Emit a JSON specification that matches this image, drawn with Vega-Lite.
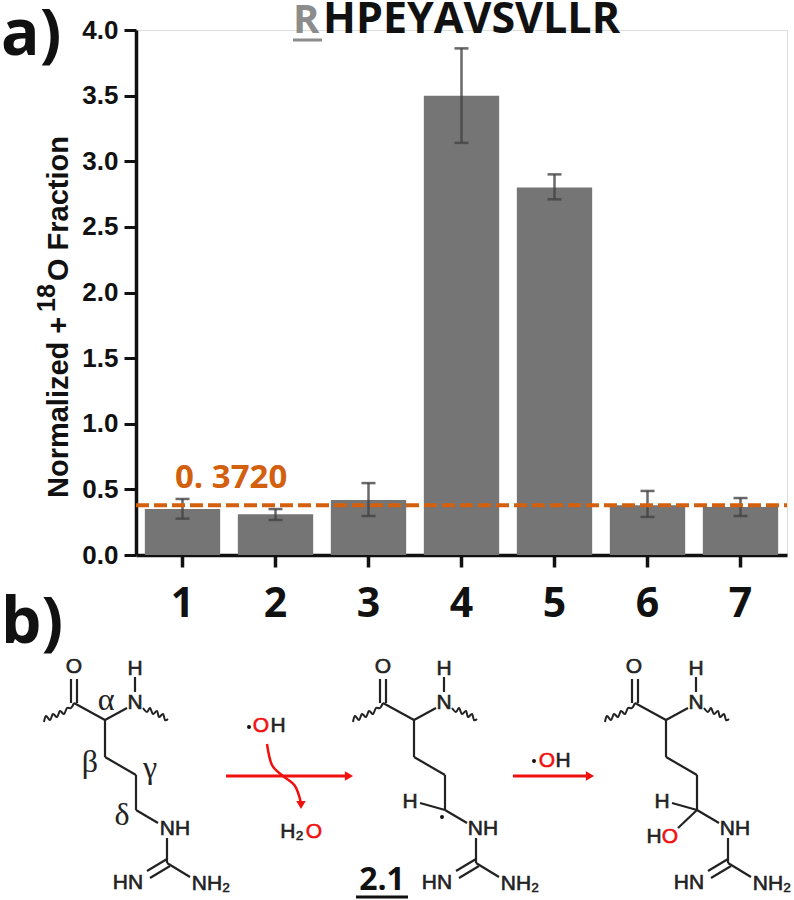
{"$schema":"https://vega.github.io/schema/vega-lite/v6.json","width":651,"height":525,"autosize":"none","padding":{"left":136,"top":30,"right":7,"bottom":345},"background":"white",
"datasets":{
"bars":[{"sample":"1","fraction":0.35,"low":0.277,"high":0.427},{"sample":"2","fraction":0.31,"low":0.267,"high":0.35},{"sample":"3","fraction":0.42,"low":0.297,"high":0.548},{"sample":"4","fraction":3.5,"low":3.14,"high":3.86},{"sample":"5","fraction":2.8,"low":2.71,"high":2.9},{"sample":"6","fraction":0.38,"low":0.29,"high":0.488},{"sample":"7","fraction":0.365,"low":0.297,"high":0.434}],
"bonds":[
{"x":71,"y":703,"x2":71,"y2":679},{"x":77,"y":703,"x2":77,"y2":679},{"x":74,"y":703,"x2":105,"y2":720},{"x":105,"y":720,"x2":127,"y2":708},{"x":135,"y":692,"x2":135,"y2":677},{"x":105,"y":720,"x2":105,"y2":757},{"x":105,"y":757,"x2":136,"y2":775},{"x":136,"y":775,"x2":136,"y2":810},{"x":136,"y":810,"x2":158,"y2":823},{"x":167,"y":838,"x2":167,"y2":863},{"x":167,"y":863,"x2":190,"y2":877},{"x":167,"y":859,"x2":147,"y2":871},{"x":170,"y":866,"x2":150,"y2":878},
{"x":380,"y":703,"x2":380,"y2":679},{"x":386,"y":703,"x2":386,"y2":679},{"x":383,"y":703,"x2":414,"y2":720},{"x":414,"y":720,"x2":436,"y2":708},{"x":444,"y":692,"x2":444,"y2":677},{"x":414,"y":720,"x2":414,"y2":757},{"x":414,"y":757,"x2":445,"y2":775},{"x":445,"y":775,"x2":445,"y2":810},{"x":445,"y":810,"x2":467,"y2":823},{"x":476,"y":838,"x2":476,"y2":863},{"x":476,"y":863,"x2":499,"y2":877},{"x":476,"y":859,"x2":456,"y2":871},{"x":479,"y":866,"x2":459,"y2":878},{"x":420,"y":803,"x2":445,"y2":810},
{"x":632,"y":703,"x2":632,"y2":679},{"x":638,"y":703,"x2":638,"y2":679},{"x":635,"y":703,"x2":666,"y2":720},{"x":666,"y":720,"x2":688,"y2":708},{"x":696,"y":692,"x2":696,"y2":677},{"x":666,"y":720,"x2":666,"y2":757},{"x":666,"y":757,"x2":697,"y2":775},{"x":697,"y":775,"x2":697,"y2":810},{"x":697,"y":810,"x2":719,"y2":823},{"x":728,"y":838,"x2":728,"y2":863},{"x":728,"y":863,"x2":751,"y2":877},{"x":728,"y":859,"x2":708,"y2":871},{"x":731,"y":866,"x2":711,"y2":878},{"x":672,"y":803,"x2":697,"y2":810},{"x":697,"y":810,"x2":678,"y2":828}
],
"waves":[
{"w":"a","i":1,"x":44,"y":722},{"w":"a","i":2,"x":46,"y":716},{"w":"a","i":3,"x":50,"y":720},{"w":"a","i":4,"x":53,"y":714},{"w":"a","i":5,"x":57,"y":717},{"w":"a","i":6,"x":60,"y":711},{"w":"a","i":7,"x":64,"y":714},{"w":"a","i":8,"x":67,"y":708},{"w":"a","i":9,"x":71,"y":708},{"w":"a","i":10,"x":74,"y":703},
{"w":"b","i":1,"x":143,"y":708},{"w":"b","i":2,"x":147,"y":712},{"w":"b","i":3,"x":150,"y":708},{"w":"b","i":4,"x":153,"y":714},{"w":"b","i":5,"x":157,"y":711},{"w":"b","i":6,"x":159,"y":717},{"w":"b","i":7,"x":163,"y":714},{"w":"b","i":8,"x":165,"y":720},{"w":"b","i":9,"x":168,"y":719},
{"w":"c","i":1,"x":353,"y":722},{"w":"c","i":2,"x":355,"y":716},{"w":"c","i":3,"x":359,"y":720},{"w":"c","i":4,"x":362,"y":714},{"w":"c","i":5,"x":366,"y":717},{"w":"c","i":6,"x":369,"y":711},{"w":"c","i":7,"x":373,"y":714},{"w":"c","i":8,"x":376,"y":708},{"w":"c","i":9,"x":380,"y":708},{"w":"c","i":10,"x":383,"y":703},
{"w":"d","i":1,"x":452,"y":708},{"w":"d","i":2,"x":456,"y":712},{"w":"d","i":3,"x":459,"y":708},{"w":"d","i":4,"x":462,"y":714},{"w":"d","i":5,"x":466,"y":711},{"w":"d","i":6,"x":468,"y":717},{"w":"d","i":7,"x":472,"y":714},{"w":"d","i":8,"x":474,"y":720},{"w":"d","i":9,"x":477,"y":719},
{"w":"e","i":1,"x":605,"y":722},{"w":"e","i":2,"x":607,"y":716},{"w":"e","i":3,"x":611,"y":720},{"w":"e","i":4,"x":614,"y":714},{"w":"e","i":5,"x":618,"y":717},{"w":"e","i":6,"x":621,"y":711},{"w":"e","i":7,"x":625,"y":714},{"w":"e","i":8,"x":628,"y":708},{"w":"e","i":9,"x":632,"y":708},{"w":"e","i":10,"x":635,"y":703},
{"w":"f","i":1,"x":704,"y":708},{"w":"f","i":2,"x":708,"y":712},{"w":"f","i":3,"x":711,"y":708},{"w":"f","i":4,"x":714,"y":714},{"w":"f","i":5,"x":718,"y":711},{"w":"f","i":6,"x":720,"y":717},{"w":"f","i":7,"x":724,"y":714},{"w":"f","i":8,"x":726,"y":720},{"w":"f","i":9,"x":729,"y":719}
],
"arrows":[{"x":226,"y":776,"x2":350,"y2":776},{"x":513,"y":776,"x2":588,"y2":776}],
"curve":[{"i":1,"x":267,"y":744},{"i":2,"x":272,"y":765},{"i":3,"x":283,"y":776},{"i":4,"x":295,"y":786},{"i":5,"x":301,"y":803}],
"heads":[{"x":349,"y":776,"dir":"right"},{"x":590,"y":776,"dir":"right"},{"x":301,"y":805,"dir":"down"}],
"dots":[{"x":249,"y":727},{"x":534,"y":761},{"x":442,"y":817}],
"atoms":[
{"t":"O","x":74,"y":667,"k":"atom"},{"t":"H","x":135,"y":669,"k":"atom"},{"t":"N","x":135,"y":703,"k":"atom"},{"t":"NH","x":175,"y":829,"k":"atom"},{"t":"HN","x":128,"y":883,"k":"atom"},{"t":"NH₂","x":211,"y":884,"k":"atom"},
{"t":"O","x":383,"y":667,"k":"atom"},{"t":"H","x":444,"y":669,"k":"atom"},{"t":"N","x":444,"y":703,"k":"atom"},{"t":"NH","x":483,"y":829,"k":"atom"},{"t":"HN","x":437,"y":883,"k":"atom"},{"t":"NH₂","x":520,"y":884,"k":"atom"},{"t":"H","x":410,"y":802,"k":"atom"},
{"t":"O","x":634,"y":667,"k":"atom"},{"t":"H","x":696,"y":669,"k":"atom"},{"t":"N","x":696,"y":703,"k":"atom"},{"t":"NH","x":735,"y":829,"k":"atom"},{"t":"HN","x":689,"y":883,"k":"atom"},{"t":"NH₂","x":772,"y":884,"k":"atom"},{"t":"H","x":662,"y":802,"k":"atom"},{"t":"H","x":654,"y":837,"k":"atom"},{"t":"O","x":670,"y":837,"k":"oxygen"},
{"t":"O","x":261,"y":726,"k":"oxygen"},{"t":"H","x":278,"y":726,"k":"atom"},{"t":"H₂","x":292,"y":832,"k":"atom"},{"t":"O","x":314,"y":832,"k":"oxygen"},{"t":"O","x":547,"y":761,"k":"oxygen"},{"t":"H","x":563,"y":761,"k":"atom"}
],
"greek":[{"t":"α","x":106,"y":700},{"t":"β","x":90,"y":762},{"t":"γ","x":150,"y":768},{"t":"δ","x":122,"y":815}],
"panels":[{"t":"a)","x":1,"y":55},{"t":"b)","x":1,"y":643}],
"compound":[{"t":"2.1","x":382,"y":890}],
"compoundLine":[{"x":356,"x2":408,"y":897}],
"peptide":[{"t":"R","x":293,"y":33,"k":"site"},{"t":"HPEYAVSVLLR","x":323,"y":33,"k":"rest"}],
"peptideLine":[{"x":293,"x2":322,"y":40}],
"yt":[{"t":"Normalized +","x":68,"y":498},{"t":"O Fraction","x":68,"y":281}],
"yt2":[{"t":"18","x":55,"y":312}]
},
"resolve":{"scale":{"x":"independent","y":"independent","color":"independent","stroke":"independent"}},
"layer":[
{"data":{"name":"bars"},
"encoding":{"x":{"field":"sample","type":"nominal","scale":{"paddingInner":0.19,"paddingOuter":0.095},"axis":{"title":null,"labelAngle":0,"labelFont":"Open Sans","labelFontWeight":"bold","labelFontSize":41,"labelColor":"#111","labelPadding":17,"tickSize":12,"tickWidth":3.5,"tickColor":"#111","domainWidth":3.5,"domainColor":"#111","labelBaseline":"top","grid":false}},
"y":{"type":"quantitative"}},
"layer":[
{"mark":{"type":"bar","color":"#757575"},"encoding":{"y":{"field":"fraction","type":"quantitative","scale":{"domain":[0,4],"nice":false},"axis":{"title":null,"values":[0,0.25,0.5,0.75,1,1.25,1.5,1.75,2,2.25,2.5,2.75,3,3.25,3.5,3.75,4],"labelExpr":"datum.value*2%1==0 ? format(datum.value,'.1f') : ''","labelFont":"Liberation Sans","labelFontWeight":"bold","labelFontSize":26,"labelColor":"#111","labelPadding":6,"tickSize":{"condition":{"test":"datum.value*2%1!=0","value":7},"value":12},"tickWidth":3,"tickColor":"#111","domainWidth":3.5,"domainColor":"#111","grid":false,"labelOverlap":false}}}},
{"mark":{"type":"rule","color":"#444","opacity":0.8,"strokeWidth":2.5},"encoding":{"y":{"field":"low","type":"quantitative"},"y2":{"field":"high"}}},
{"mark":{"type":"tick","color":"#444","opacity":0.8,"thickness":2.5,"size":14},"encoding":{"y":{"field":"low","type":"quantitative"}}},
{"mark":{"type":"tick","color":"#444","opacity":0.8,"thickness":2.5,"size":14},"encoding":{"y":{"field":"high","type":"quantitative"}}},
{"data":{"values":[{"threshold":0.38}]},"mark":{"type":"rule","color":"#d2600f","strokeWidth":4,"strokeDash":[13,5]},"encoding":{"x":{"value":0},"x2":{"value":651},"y":{"field":"threshold","type":"quantitative"}}}
]},
{"encoding":{"x":{"field":"x","type":"quantitative","scale":{"domain":[136,787],"nice":false,"zero":false},"axis":null},"y":{"field":"y","type":"quantitative","scale":{"domain":[30,555],"nice":false,"zero":false,"reverse":true},"axis":null}},
"layer":[
{"data":{"name":"bonds"},"mark":{"type":"rule","color":"#222","strokeWidth":2.2},"encoding":{"x2":{"field":"x2"},"y2":{"field":"y2"}}},
{"data":{"name":"waves"},"mark":{"type":"line","color":"#222","strokeWidth":2,"interpolate":"cardinal"},"encoding":{"detail":{"field":"w"},"order":{"field":"i","type":"quantitative"}}},
{"data":{"name":"arrows"},"mark":{"type":"rule","color":"#f01010","strokeWidth":3},"encoding":{"x2":{"field":"x2"},"y2":{"field":"y2"}}},
{"data":{"name":"curve"},"mark":{"type":"line","color":"#f01010","strokeWidth":2.5,"interpolate":"cardinal"},"encoding":{"order":{"field":"i","type":"quantitative"}}},
{"data":{"name":"heads"},"transform":[{"filter":"datum.dir=='right'"}],"mark":{"type":"point","shape":"triangle-right","filled":true,"color":"#f01010","size":90,"opacity":1}},
{"data":{"name":"heads"},"transform":[{"filter":"datum.dir=='down'"}],"mark":{"type":"point","shape":"triangle-down","filled":true,"color":"#f01010","size":90,"opacity":1}},
{"data":{"name":"dots"},"mark":{"type":"point","shape":"circle","filled":true,"color":"#111","size":16,"opacity":1}},
{"data":{"name":"atoms"},"mark":{"type":"text","font":"Liberation Sans","fontSize":21,"baseline":"middle","align":"center","strokeWidth":0.6},"encoding":{"text":{"field":"t"},"color":{"field":"k","type":"nominal","scale":{"domain":["atom","oxygen"],"range":["#222222","#f01010"]},"legend":null},"stroke":{"field":"k","type":"nominal","scale":{"domain":["atom","oxygen"],"range":["#222222","#f01010"]},"legend":null}}},
{"data":{"name":"greek"},"mark":{"type":"text","font":"Liberation Serif","fontSize":32,"baseline":"middle","align":"center","color":"#222"},"encoding":{"text":{"field":"t"}}},
{"data":{"name":"panels"},"mark":{"type":"text","font":"Open Sans","fontWeight":"bold","fontSize":64,"align":"left","baseline":"alphabetic","color":"#111"},"encoding":{"text":{"field":"t"}}},
{"data":{"name":"compound"},"mark":{"type":"text","font":"Open Sans","fontWeight":"bold","fontSize":32,"align":"center","baseline":"alphabetic","color":"#111"},"encoding":{"text":{"field":"t"}}},
{"data":{"name":"compoundLine"},"mark":{"type":"rule","color":"#111","strokeWidth":3},"encoding":{"x2":{"field":"x2"}}},
{"data":{"name":"peptide"},"transform":[{"filter":"datum.k=='site'"}],"mark":{"type":"text","font":"Open Sans","fontWeight":"bold","fontSize":40,"align":"left","baseline":"alphabetic","color":"#8c8c8c"},"encoding":{"text":{"field":"t"}}},
{"data":{"name":"peptide"},"transform":[{"filter":"datum.k=='rest'"}],"mark":{"type":"text","font":"Open Sans","fontWeight":"bold","fontSize":43,"align":"left","baseline":"alphabetic","color":"#111"},"encoding":{"text":{"field":"t"}}},
{"data":{"name":"peptideLine"},"mark":{"type":"rule","color":"#8c8c8c","strokeWidth":3},"encoding":{"x2":{"field":"x2"}}},
{"data":{"name":"yt"},"mark":{"type":"text","font":"Liberation Sans","fontWeight":"bold","fontSize":29,"angle":270,"align":"left","baseline":"alphabetic","color":"#111"},"encoding":{"text":{"field":"t"}}},
{"data":{"name":"yt2"},"mark":{"type":"text","font":"Liberation Sans","fontWeight":"bold","fontSize":25,"angle":270,"align":"left","baseline":"alphabetic","color":"#111"},"encoding":{"text":{"field":"t"}}},
{"data":{"values":[{"t":"0. 3720","x":175,"y":488}]},"mark":{"type":"text","font":"Open Sans","fontWeight":"bold","fontSize":33,"align":"left","baseline":"alphabetic","color":"#d2600f"},"encoding":{"text":{"field":"t"}}}
]}
]}
